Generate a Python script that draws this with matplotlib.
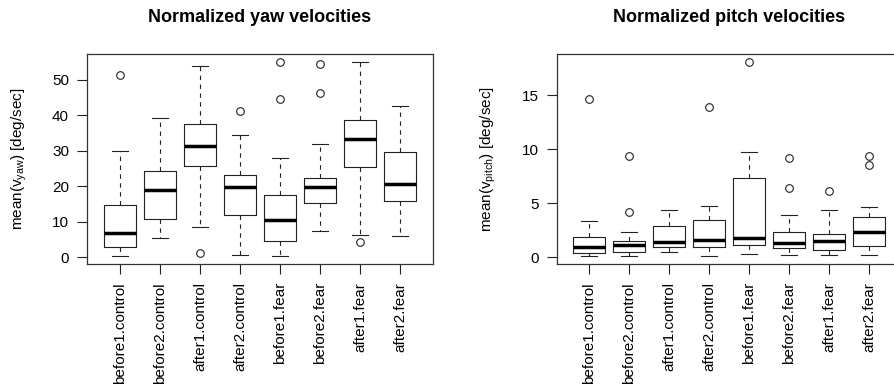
import matplotlib
matplotlib.use("Agg")
import matplotlib.pyplot as plt

plt.rcParams['font.family'] = ['Liberation Sans', 'DejaVu Sans']
plt.rcParams['mathtext.fontset'] = 'custom'
plt.rcParams['mathtext.rm'] = 'Liberation Sans'
plt.rcParams['mathtext.it'] = 'Liberation Sans'

# groups
labels = ['before1.control', 'before2.control', 'after1.control', 'after2.control',
          'before1.fear', 'before2.fear', 'after1.fear', 'after2.fear']

# yaw velocities, box statistics
yaw_lo = [0.4, 5.5, 8.5, 0.7, 0.3, 7.5, 6.4, 5.9]
yaw_q1 = [2.8, 10.8, 25.7, 11.9, 4.7, 15.2, 25.4, 15.8]
yaw_med = [6.7, 18.8, 31.4, 19.8, 10.4, 19.8, 33.3, 20.5]
yaw_q3 = [14.8, 24.3, 37.5, 23.1, 17.5, 22.2, 38.5, 29.6]
yaw_hi = [30.0, 39.3, 53.7, 34.5, 28.0, 32.0, 55.0, 42.6]
yaw_out = [[51.3], [], [1.2], [41.2], [54.8, 44.6], [54.3, 46.1], [4.4], []]

# pitch velocities
pitch_lo = [0.09, 0.09, 0.49, 0.12, 0.34, 0.22, 0.22, 0.18]
pitch_q1 = [0.43, 0.52, 0.99, 0.92, 1.11, 0.86, 0.68, 1.08]
pitch_med = [0.92, 1.11, 1.39, 1.63, 1.82, 1.32, 1.48, 2.31]
pitch_q3 = [1.88, 1.54, 2.93, 3.48, 7.33, 2.34, 2.16, 3.76]
pitch_hi = [3.36, 2.34, 4.37, 4.74, 9.73, 3.91, 4.34, 4.62]
pitch_out = [[14.6], [9.39, 4.19], [], [13.89], [18.08], [9.18, 6.44], [6.13], [9.33, 8.5]]


def make_stats(lo, q1, med, q3, hi, out):
    stats = []
    for i in range(len(labels)):
        stats.append(dict(label=labels[i], whislo=lo[i], q1=q1[i], med=med[i],
                          q3=q3[i], whishi=hi[i], fliers=out[i]))
    return stats


def draw(ax, stats, yticks, title, ylabel, labx):
    ax.bxp(stats, widths=0.8, showfliers=True,
           boxprops=dict(color='#222222', linewidth=0.8),
           medianprops=dict(color='black', linewidth=2.5, solid_capstyle='butt'),
           whiskerprops=dict(color='#222222', linewidth=0.8, linestyle=(0, (4, 4))),
           capprops=dict(color='#222222', linewidth=0.8),
           flierprops=dict(marker='o', markersize=5.5, markerfacecolor='none',
                           markeredgecolor='#222222', markeredgewidth=0.8))
    # R-style range: whiskers and outliers plus 4 %
    lo = min(min(s['whislo'] for s in stats), min([min(s['fliers']) for s in stats if len(s['fliers'])]))
    hi = max(max(s['whishi'] for s in stats), max([max(s['fliers']) for s in stats if len(s['fliers'])]))
    ext = (hi - lo) * 0.04
    ax.set_ylim(lo - ext, hi + ext)
    ax.set_xlim(0.18, 8.82)
    ax.set_yticks(yticks)
    ax.set_xticks(range(1, 9))
    ax.set_xticklabels(labels, rotation=90)
    ax.tick_params(axis='both', length=7, width=0.8, pad=6, labelsize=11, color='#222222')
    for sp in ax.spines.values():
        sp.set_linewidth(0.9)
        sp.set_color('#333333')
    ax.set_title(title, fontsize=13, fontweight='bold', pad=23)
    ax.set_ylabel(ylabel, fontsize=11)
    ax.yaxis.set_label_coords(labx, 0.5)


fig = plt.figure(figsize=(8.94, 3.89), dpi=100)
ax1 = fig.add_axes([0.0975, 0.3213, 0.3866, 0.5399])
ax2 = fig.add_axes([0.6225, 0.3213, 0.3866, 0.5399])

draw(ax1, make_stats(yaw_lo, yaw_q1, yaw_med, yaw_q3, yaw_hi, yaw_out),
     [0, 10, 20, 30, 40, 50], 'Normalized yaw velocities',
     r'mean(v$_{\mathrm{yaw}}$) [deg/sec]', -0.168)
draw(ax2, make_stats(pitch_lo, pitch_q1, pitch_med, pitch_q3, pitch_hi, pitch_out),
     [0, 5, 10, 15], 'Normalized pitch velocities',
     r'mean(v$_{\mathrm{pitch}}$) [deg/sec]', -0.170)

fig.savefig('out.png', dpi=100)
